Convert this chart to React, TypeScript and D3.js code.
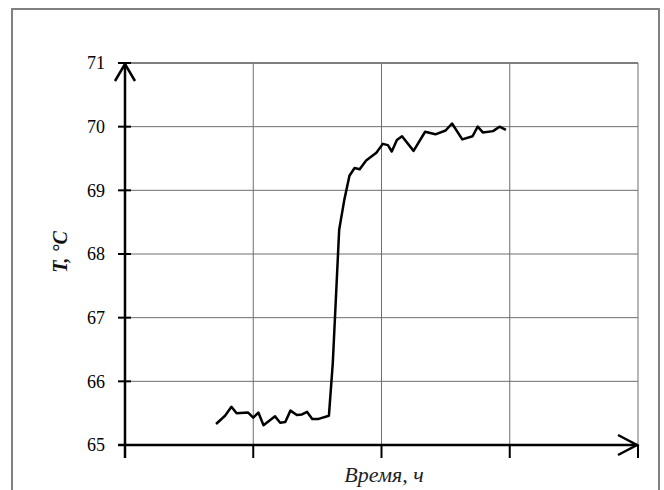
import React from "react";
import * as d3 from "d3";

// time, h (x axis has no labels, so units are read from grid spacing)
const timeH = [
  0.71, 0.78, 0.83, 0.87, 0.96, 1.0, 1.04, 1.08, 1.17, 1.21, 1.25, 1.29, 1.34, 1.38, 1.42,
  1.46, 1.51, 1.59, 1.62, 1.67, 1.71, 1.75, 1.79, 1.83, 1.88, 1.96, 2.01, 2.05, 2.08, 2.12,
  2.16, 2.25, 2.34, 2.42, 2.5, 2.55, 2.63, 2.71, 2.75, 2.79, 2.87, 2.92, 2.97,
];
// temperature, °C
const tempC = [
  65.33, 65.46, 65.6, 65.5, 65.51, 65.43, 65.51, 65.31, 65.45, 65.35, 65.36, 65.54, 65.47,
  65.48, 65.52, 65.41, 65.41, 65.46, 66.28, 68.38, 68.85, 69.23, 69.35, 69.33, 69.47, 69.59,
  69.73, 69.71, 69.61, 69.79, 69.85, 69.62, 69.92, 69.88, 69.94, 70.05, 69.8, 69.85, 70.0,
  69.91, 69.93, 70.0, 69.95,
];
const yTicks = [65, 66, 67, 68, 69, 70, 71];
const xTicks = [0, 1, 2, 3, 4];

const W = 664;
const H = 490;

export default function App() {
  // plot area
  const x = d3.scaleLinear().domain([0, 4]).range([125, 638]);
  const y = d3.scaleLinear().domain([65, 71]).range([445, 63]);

  const points: [number, number][] = timeH.map((t, i) => [t, tempC[i]]);
  const line = d3
    .line<[number, number]>()
    .x((d) => x(d[0]))
    .y((d) => y(d[1]));

  const x0 = x(0);
  const y0 = y(65);
  const xEnd = x(4);
  const yTop = y(71);

  return (
    <svg
      width={W}
      height={H}
      style={{ position: "absolute", left: 0, top: 0, background: "#fff" }}
    >
      {/* outer frame */}
      <rect x={12} y={9} width={647} height={500} fill="none" stroke="#808080" strokeWidth={2} />

      {/* horizontal grid */}
      {yTicks.slice(1).map((t) => (
        <line
          key={"hy" + t}
          x1={x0}
          x2={xEnd}
          y1={y(t)}
          y2={y(t)}
          stroke={t === 71 ? "#000" : "#6e6e6e"}
          strokeWidth={1}
        />
      ))}
      {/* vertical grid */}
      {xTicks.slice(1).map((t) => (
        <line
          key={"vx" + t}
          x1={x(t)}
          x2={x(t)}
          y1={yTop}
          y2={y0}
          stroke="#6e6e6e"
          strokeWidth={1}
        />
      ))}

      {/* y ticks and labels */}
      {yTicks.map((t) => (
        <g key={"yt" + t}>
          <line x1={118} x2={131} y1={y(t)} y2={y(t)} stroke="#000" strokeWidth={2} />
          <text
            x={105}
            y={y(t)}
            dy="0.35em"
            textAnchor="end"
            fontFamily="'Liberation Serif', serif"
            fontSize={18}
            fill="#000"
          >
            {t}
          </text>
        </g>
      ))}

      {/* x ticks */}
      {xTicks.map((t) => (
        <line key={"xt" + t} x1={x(t)} x2={x(t)} y1={y0} y2={458} stroke="#000" strokeWidth={2} />
      ))}

      {/* axes */}
      <line x1={x0} x2={x0} y1={yTop} y2={458} stroke="#000" strokeWidth={2.5} />
      <line x1={118} x2={xEnd} y1={y0} y2={y0} stroke="#000" strokeWidth={2.5} />
      <polyline
        points={`${x0 - 10},${yTop + 18} ${x0},${yTop + 1} ${x0 + 10},${yTop + 18}`}
        fill="none"
        stroke="#000"
        strokeWidth={2.5}
      />
      <polyline
        points={`${xEnd - 20},${y0 - 10} ${xEnd - 1},${y0} ${xEnd - 20},${y0 + 10}`}
        fill="none"
        stroke="#000"
        strokeWidth={2.5}
      />

      {/* data line */}
      <path d={line(points) || ""} fill="none" stroke="#000" strokeWidth={2.5} strokeLinejoin="round" />

      {/* axis titles */}
      <text
        transform={`translate(67,252) rotate(-90)`}
        textAnchor="middle"
        fontFamily="'Liberation Serif', serif"
        fontStyle="italic"
        fontWeight="bold"
        fontSize={20}
        fill="#111"
      >
        T, °C
      </text>
      <text
        x={384}
        y={482}
        textAnchor="middle"
        fontFamily="'Liberation Serif', serif"
        fontStyle="italic"
        fontSize={22}
        fill="#222"
      >
        Время, ч
      </text>
    </svg>
  );
}
